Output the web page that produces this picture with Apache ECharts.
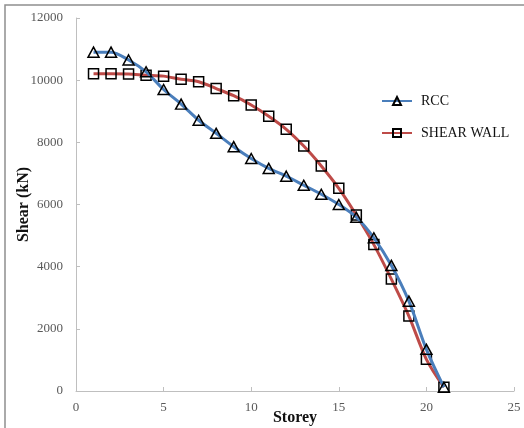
<!DOCTYPE html>
<html lang="en">
<head>
  <meta charset="UTF-8">
  <title>Storey shear</title>
  <script src="https://cdn.jsdelivr.net/npm/echarts@6/dist/echarts.min.js"></script>
  <style>
    html, body { margin: 0; padding: 0; background: #fff; }
    #chart { width: 524px; height: 428px; }
  </style>
</head>
<body>
  <div id="chart"></div>
  <script>
    // storey numbers and shear values (kN)
    var storeys = [1, 2, 3, 4, 5, 6, 7, 8, 9, 10, 11, 12, 13, 14, 15, 16, 17, 18, 19, 20, 21];
    var rcc = [10900, 10900, 10650, 10270, 9700, 9230, 8710, 8290, 7860, 7480, 7160,
               6910, 6620, 6330, 6000, 5590, 4930, 4040, 2890, 1340, 120];
    var shearWall = [10210, 10210, 10200, 10160, 10130, 10030, 9950, 9730, 9500, 9200, 8840,
                     8420, 7880, 7240, 6520, 5660, 4710, 3600, 2410, 1020, 120];

    function pairs(ys) {
      return storeys.map(function (s, i) { return [s, ys[i]]; });
    }

    var chart = echarts.init(document.getElementById('chart'));
    var serif = 'Liberation Serif';
    var axisGrey = '#bfbfbf';

    var option = {
      animation: false,
      backgroundColor: '#fff',
      graphic: [{
        type: 'rect',
        shape: { x: 5, y: 5, width: 540, height: 450 },
        style: { fill: 'none', stroke: '#8f8f8f', lineWidth: 1.5 },
        silent: true
      }],
      grid: { left: 76, top: 18, right: 10, bottom: 37, outerBoundsMode: 'none' },
      legend: {
        orient: 'vertical',
        left: 376,
        top: 89,
        itemWidth: 30,
        itemHeight: 10,
        itemGap: 18,
        textStyle: { fontFamily: serif, fontSize: 14, color: '#111', padding: [0, 0, 0, 4] },
        data: ['RCC', 'SHEAR WALL']
      },
      xAxis: {
        type: 'value',
        min: 0, max: 25, interval: 5,
        name: 'Storey',
        nameLocation: 'middle',
        nameGap: 19,
        nameMoveOverlap: false,
        nameTextStyle: { fontFamily: serif, fontSize: 16, fontWeight: 'bold', color: '#111' },
        axisLine: { lineStyle: { color: axisGrey, width: 1 } },
        axisTick: { inside: true, length: 4, lineStyle: { color: axisGrey } },
        axisLabel: { fontFamily: serif, fontSize: 13, color: '#595959', margin: 10 },
        splitLine: { show: false }
      },
      yAxis: {
        type: 'value',
        min: 0, max: 12000, interval: 2000,
        name: 'Shear (kN)',
        nameLocation: 'middle',
        nameRotate: 90,
        nameGap: 44,
        nameMoveOverlap: false,
        nameTextStyle: { fontFamily: serif, fontSize: 16, fontWeight: 'bold', color: '#111' },
        axisLine: { show: true, lineStyle: { color: axisGrey, width: 1 } },
        axisTick: { show: true, inside: true, length: 4, lineStyle: { color: axisGrey } },
        axisLabel: {
          fontFamily: serif, fontSize: 13, color: '#595959', margin: 13,
          formatter: function (v) { return String(v); }
        },
        splitLine: { show: false }
      },
      series: [
        {
          name: 'RCC',
          type: 'line',
          smooth: 0.3,
          data: pairs(rcc),
          symbol: 'triangle',
          symbolSize: [11, 10],
          lineStyle: { color: '#4a7ebb', width: 3 },
          itemStyle: { color: 'rgba(255,255,255,0)', borderColor: '#000', borderWidth: 1.5 },
          z: 3
        },
        {
          name: 'SHEAR WALL',
          type: 'line',
          smooth: 0.3,
          data: pairs(shearWall),
          symbol: 'rect',
          symbolSize: 10,
          lineStyle: { color: '#be4b48', width: 3 },
          itemStyle: { color: 'rgba(255,255,255,0)', borderColor: '#000', borderWidth: 1.5 },
          z: 2
        }
      ]
    };

    chart.setOption(option);
  </script>
</body>
</html>
